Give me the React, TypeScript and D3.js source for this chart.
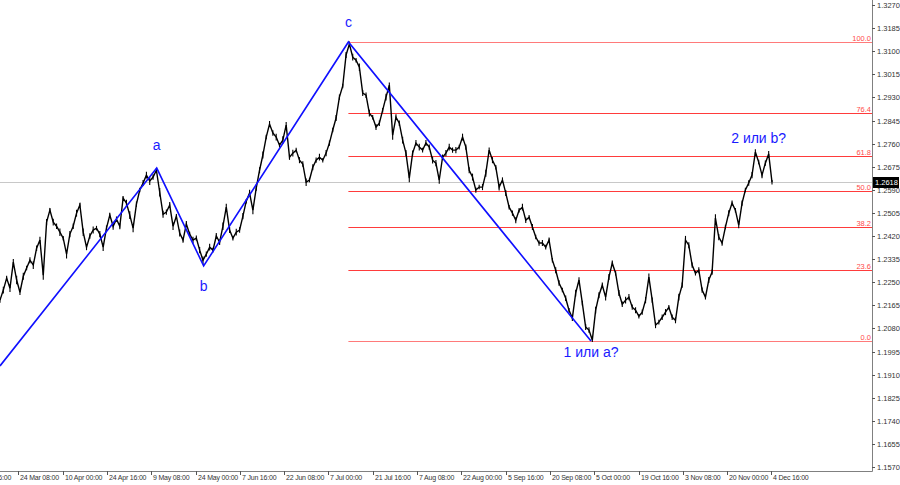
import React from "react";
import * as d3 from "d3";

const W = 900;
const H = 485;

// Close prices (H4-like sampling), left to right
const prices: number[] = [
  1.2184, 1.2221, 1.2265, 1.2228, 1.2324, 1.2258, 1.2213, 1.2272, 1.2302, 1.2331,
  1.2313, 1.2375, 1.2405, 1.2276, 1.2471, 1.2515, 1.2471, 1.2456, 1.2434, 1.2412,
  1.2353, 1.2427, 1.2456, 1.2504, 1.2534, 1.2434, 1.2379, 1.2420, 1.2442, 1.2449,
  1.2427, 1.2379, 1.2449, 1.2497, 1.2456, 1.2482, 1.2456, 1.2559, 1.2541, 1.2497,
  1.2449, 1.2537, 1.2589, 1.2615, 1.2644, 1.2622, 1.2637, 1.2662, 1.2581, 1.2500,
  1.2508, 1.2534, 1.2456, 1.2493, 1.2431, 1.2405, 1.2464, 1.2427, 1.2405, 1.2412,
  1.2368, 1.2331, 1.2353, 1.2379, 1.2368, 1.2420, 1.2397, 1.2456, 1.2526, 1.2442,
  1.2412, 1.2434, 1.2442, 1.2493, 1.2548, 1.2578, 1.2515, 1.2596, 1.2662, 1.2718,
  1.2784, 1.2832, 1.2799, 1.2784, 1.2754, 1.2773, 1.2828, 1.2710, 1.2725, 1.2736,
  1.2699, 1.2685, 1.2618, 1.2626, 1.2673, 1.2699, 1.2710, 1.2699, 1.2725, 1.2762,
  1.2810, 1.2854, 1.2931, 1.2972, 1.3086, 1.3126, 1.3078, 1.3067, 1.3041, 1.2946,
  1.2938, 1.2872, 1.2857, 1.2821, 1.2835, 1.2883, 1.2931, 1.2975, 1.2791, 1.2857,
  1.2835, 1.2773, 1.2725, 1.2633, 1.2725, 1.2762, 1.2747, 1.2736, 1.2762, 1.2747,
  1.2699, 1.2688, 1.2626, 1.2710, 1.2725, 1.2747, 1.2736, 1.2736, 1.2747, 1.2784,
  1.2747, 1.2662, 1.2637, 1.2589, 1.2600, 1.2600, 1.2651, 1.2736, 1.2699, 1.2673,
  1.2600, 1.2626, 1.2578, 1.2526, 1.2504, 1.2478, 1.2515, 1.2526, 1.2478, 1.2489,
  1.2453, 1.2416, 1.2394, 1.2394, 1.2379, 1.2405, 1.2331, 1.2294, 1.2247, 1.2221,
  1.2191, 1.2147, 1.2118, 1.2210, 1.2258, 1.2173, 1.2085, 1.2074, 1.2037, 1.2147,
  1.2202, 1.2239, 1.2195, 1.2269, 1.2320, 1.2283, 1.2210, 1.2169, 1.2184, 1.2195,
  1.2158, 1.2147, 1.2125, 1.2140, 1.2184, 1.2269, 1.2184, 1.2092, 1.2103, 1.2121,
  1.2140, 1.2158, 1.2121, 1.2110, 1.2195, 1.2239, 1.2405, 1.2386, 1.2313, 1.2283,
  1.2294, 1.2221, 1.2195, 1.2258, 1.2287, 1.2486, 1.2416, 1.2394, 1.2453, 1.2504,
  1.2541, 1.2515, 1.2460, 1.2541, 1.2589, 1.2615, 1.2644, 1.2729, 1.2692, 1.2644,
  1.2688, 1.2722, 1.2618,
];

// Intrabar half-range around each close, in pips (thickness of the noisy band)
const spreadPips: number[] = [
  14, 18, 12, 20, 16, 22, 14, 18, 12, 16,
  20, 14, 18, 24, 16, 12, 18, 14, 20, 12,
  22, 16, 14, 18, 12, 20, 16, 14, 18, 12,
  16, 20, 14, 12, 18, 14, 16, 12, 18, 20,
  22, 14, 12, 16, 18, 20, 14, 12, 22, 18,
  14, 16, 20, 12, 18, 14, 16, 12, 18, 14,
  16, 20, 14, 18, 12, 16, 14, 20, 18, 16,
  12, 18, 14, 16, 12, 18, 22, 14, 16, 18,
  12, 16, 14, 18, 12, 20, 16, 14, 18, 12,
  16, 14, 20, 12, 16, 14, 18, 12, 16, 14,
  12, 16, 14, 12, 16, 14, 18, 12, 20, 16,
  14, 18, 12, 16, 14, 12, 18, 14, 24, 16,
  14, 18, 16, 22, 14, 16, 18, 12, 16, 14,
  18, 16, 20, 14, 16, 18, 14, 16, 12, 18,
  14, 16, 18, 14, 12, 16, 18, 14, 16, 12,
  18, 14, 16, 12, 14, 16, 12, 18, 14, 12,
  16, 12, 14, 16, 12, 14, 12, 16, 14, 12,
  14, 12, 16, 18, 14, 12, 16, 14, 10, 18,
  16, 14, 18, 16, 14, 12, 16, 14, 18, 16,
  14, 16, 12, 14, 16, 18, 14, 16, 12, 14,
  16, 12, 14, 16, 18, 14, 22, 16, 14, 12,
  16, 14, 12, 16, 14, 20, 16, 14, 12, 16,
  14, 12, 16, 14, 12, 14, 16, 14, 12, 16,
  14, 16, 12,
];

// Right price axis ticks
const priceTicks: number[] = [
  1.327, 1.3185, 1.31, 1.3015, 1.293, 1.2845, 1.276, 1.2675, 1.259, 1.2505, 1.242,
  1.2335, 1.225, 1.2165, 1.208, 1.1995, 1.191, 1.1825, 1.174, 1.1655, 1.157,
];

// Time axis labels
const timeLabels: string[] = [
  "9 Mar 16:00", "24 Mar 08:00", "10 Apr 00:00", "24 Apr 16:00", "9 May 08:00",
  "24 May 00:00", "7 Jun 16:00", "22 Jun 08:00", "7 Jul 00:00", "21 Jul 16:00",
  "7 Aug 08:00", "22 Aug 00:00", "5 Sep 16:00", "20 Sep 08:00", "5 Oct 00:00",
  "19 Oct 16:00", "3 Nov 08:00", "20 Nov 00:00", "4 Dec 16:00",
];

// Elliott wave pivots (bar index, price)
const waveBars: number[] = [0, 47.1, 61.2, 104.7, 177.6];
const wavePrices: number[] = [1.1942, 1.267, 1.231, 1.3134, 1.2034];

// Wave labels (bar index, price anchor, text)
const waveLabelText: string[] = ["a", "b", "c", "1 или a?", "2 или b?"];
const waveLabelBars: number[] = [47.1, 61.2, 104.7, 177.6, 228];
const waveLabelPrices: number[] = [1.267, 1.231, 1.3134, 1.2034, 1.2729];
const waveLabelOffsets: number[] = [-18, 25, -15, 16, -9];

// Fibonacci retracement
const fibHigh = 1.3134;
const fibLow = 1.2034;
const fibLevels: number[] = [0, 23.6, 38.2, 50, 61.8, 76.4, 100];

const lastPrice = 1.2618;

const PLOT_RIGHT = 872;
const PLOT_BOTTOM = 471;

export default function App() {
  const y = d3.scaleLinear().domain([1.157, 1.327]).range([467, 5]);
  const x = d3.scaleLinear().domain([0, prices.length - 1]).range([0, 772]);
  const xt = d3.scaleLinear().domain([0, timeLabels.length - 1]).range([-26, 771.4]);

  const line = d3
    .line<number>()
    .x((_, i) => x(i))
    .y((d) => y(d));

  const waveLine = d3
    .line<number>()
    .x((b) => x(b))
    .y((_, i) => y(wavePrices[i]));

  const fibStart = x(waveBars[3]);
  const axisFont = "'Liberation Sans', Arial, sans-serif";

  return (
    <svg
      width={W}
      height={H}
      style={{ position: "fixed", left: 0, top: 0, background: "#fff" }}
    >
      <rect x={0} y={0} width={W} height={H} fill="#fff" />
      <defs>
        <clipPath id="plot">
          <rect x={0} y={0} width={PLOT_RIGHT} height={PLOT_BOTTOM} />
        </clipPath>
      </defs>

      {/* current price line */}
      <line
        x1={0}
        x2={PLOT_RIGHT}
        y1={Math.round(y(lastPrice)) + 0.5}
        y2={Math.round(y(lastPrice)) + 0.5}
        stroke="#c8c8c8"
        strokeWidth={1}
      />

      {/* fibonacci levels */}
      {fibLevels.map((lv) => {
        const p = fibLow + ((fibHigh - fibLow) * lv) / 100;
        const yy = Math.round(y(p)) + 0.5;
        return (
          <g key={lv}>
            <line x1={fibStart} x2={PLOT_RIGHT} y1={yy} y2={yy} stroke={lv === 100 || lv === 0 ? "#ff7a7a" : "#ff3b3b"} strokeWidth={1} />
            <text
              x={PLOT_RIGHT - 1}
              y={yy - 2}
              textAnchor="end"
              fontSize={7.5}
              fontFamily={axisFont}
              fill="#ff4a4a"
            >
              {lv.toFixed(1)}
            </text>
          </g>
        );
      })}

      {/* price line */}
      <g clipPath="url(#plot)">
        {prices.map((p, i) => {
          const s = spreadPips[i] * 0.00007;
          return (
            <line
              key={i}
              x1={x(i)}
              x2={x(i)}
              y1={y(p + s)}
              y2={y(p - s)}
              stroke="#000"
              strokeWidth={1.1}
            />
          );
        })}
        <path d={line(prices) || ""} fill="none" stroke="#000" strokeWidth={1.4} />
        <path d={waveLine(waveBars) || ""} fill="none" stroke="#1010ff" strokeWidth={1.6} />
      </g>

      {/* wave labels */}
      {waveLabelText.map((t, i) => (
        <text
          key={t}
          x={x(waveLabelBars[i])}
          y={y(waveLabelPrices[i]) + waveLabelOffsets[i]}
          textAnchor="middle"
          fontSize={14}
          fontFamily={axisFont}
          fill="#1a1aff"
        >
          {t}
        </text>
      ))}

      {/* axes */}
      <line x1={PLOT_RIGHT + 0.5} x2={PLOT_RIGHT + 0.5} y1={0} y2={PLOT_BOTTOM + 0.5} stroke="#808080" />
      <line x1={0} x2={PLOT_RIGHT + 0.5} y1={PLOT_BOTTOM + 0.5} y2={PLOT_BOTTOM + 0.5} stroke="#808080" />

      {priceTicks.map((p) => {
        const yy = Math.round(y(p)) + 0.5;
        return (
          <g key={p}>
            <line x1={PLOT_RIGHT} x2={PLOT_RIGHT + 3} y1={yy} y2={yy} stroke="#555" />
            <text x={877} y={yy + 2.5} fontSize={7.5} fontFamily={axisFont} fill="#333">
              {p.toFixed(4)}
            </text>
          </g>
        );
      })}

      {timeLabels.map((t, i) => {
        const xx = Math.round(xt(i)) + 0.5;
        return (
          <g key={t}>
            <line x1={xx} x2={xx} y1={PLOT_BOTTOM} y2={PLOT_BOTTOM + 4} stroke="#555" />
            <text x={xx + 1.5} y={480} fontSize={7} letterSpacing={-0.2} fontFamily={axisFont} fill="#333">
              {t}
            </text>
          </g>
        );
      })}

      {/* last price box */}
      <rect x={873} y={Math.round(y(lastPrice)) - 5} width={26} height={11} fill="#000" />
      <text x={875} y={Math.round(y(lastPrice)) + 3} fontSize={7.5} fontFamily={axisFont} fill="#fff">
        {lastPrice.toFixed(4)}
      </text>
    </svg>
  );
}
